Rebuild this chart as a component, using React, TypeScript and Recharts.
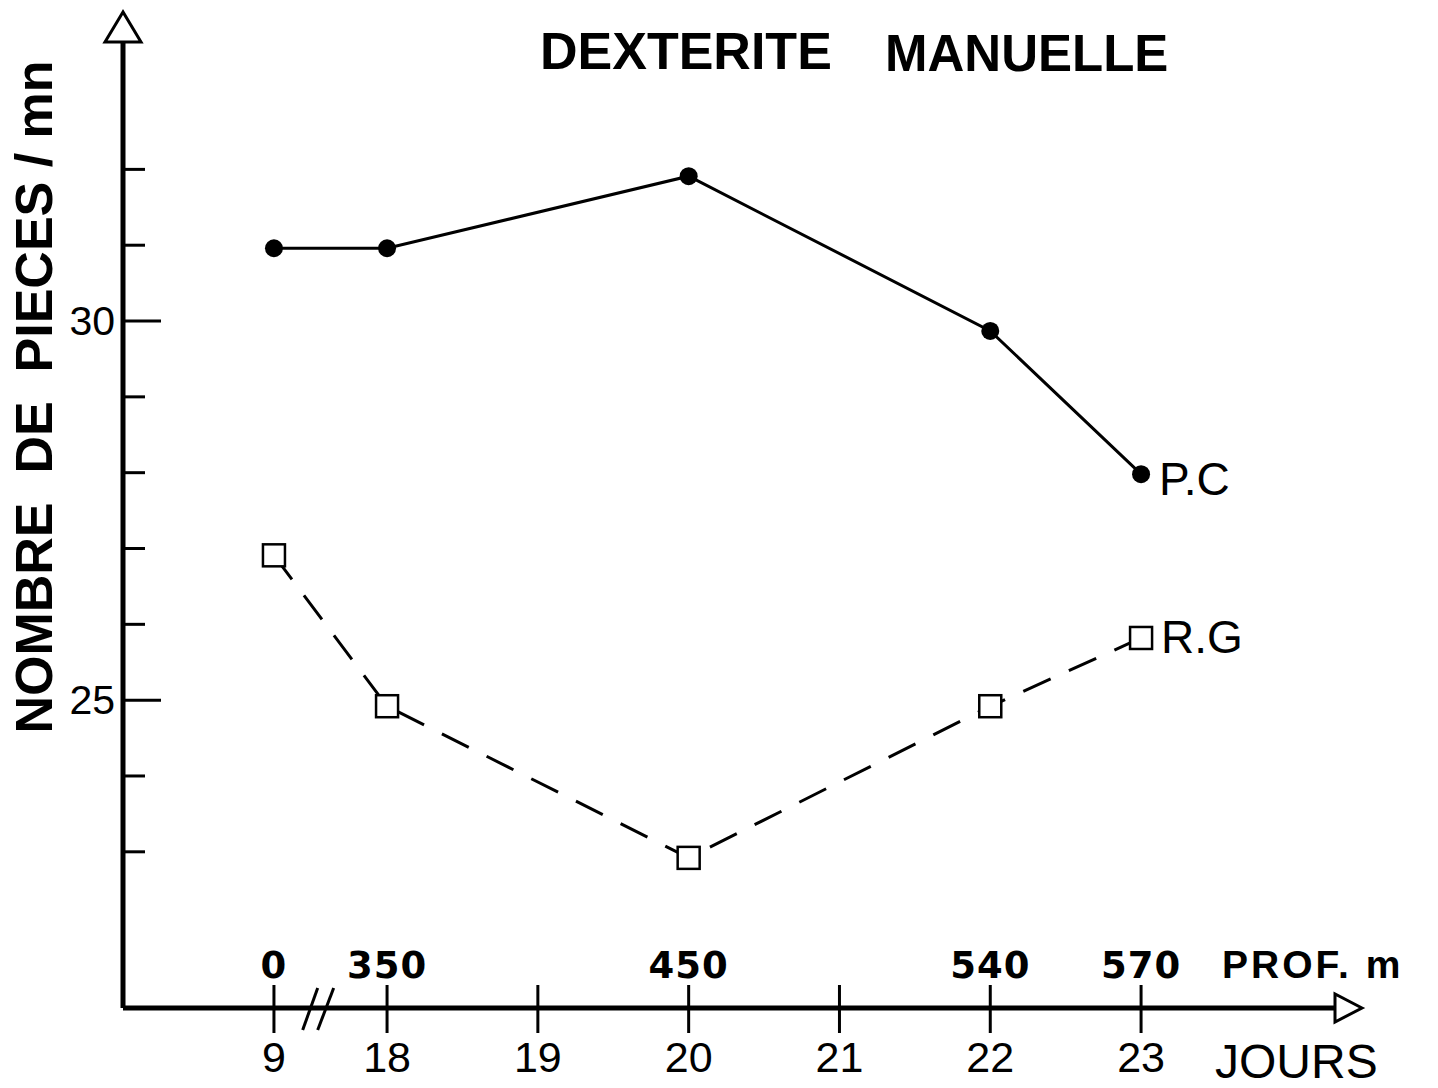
import React from 'react'
import { LineChart, Line, XAxis, YAxis, ReferenceDot } from 'recharts'

// measurement days, with the depth (m) reached on each of them
const days = [9, 18, 20, 22, 23]
const depths = [0, 350, 450, 540, 570]

// pieces per minute
const pcValues = [30.96, 30.96, 31.91, 29.87, 27.98]
const rgValues = [26.91, 24.92, 22.92, 24.92, 25.82]

const dayTicks = [9, 18, 19, 20, 21, 22, 23]
const yTicks = [23, 24, 25, 26, 27, 28, 29, 30, 31, 32]
const yLabelled = [25, 30]

// the day axis is broken between 9 and 18
const BREAK_POS = 17.25
const BREAK_MARK_POS = 17.54
const axisPos = (day: number) => (day < 18 ? BREAK_POS : day)

const X_DOMAIN: [number, number] = [16.249, 24.286]
const Y_DOMAIN: [number, number] = [20.94, 33.68]

const AXIS_X = 123
const FONT = 'Liberation Sans, Arial, sans-serif'

const data = days.map((d, i) => ({
  pos: axisPos(d),
  day: d,
  depth: depths[i],
  pc: pcValues[i],
  rg: rgValues[i],
}))

const DayTick = (props: any) => {
  const { x, index } = props
  const day = dayTicks[index]
  const row = data.find((r) => r.day === day)
  return (
    <g>
      <line x1={x} x2={x} y1={985} y2={1033} stroke="#000" strokeWidth={3} />
      <text x={x} y={1072} textAnchor="middle" fontFamily={FONT} fontSize={43} fill="#000">
        {day}
      </text>
      {row && (
        <text
          x={x}
          y={978}
          textAnchor="middle"
          fontFamily="DejaVu Sans, sans-serif"
          fontWeight="bold"
          fontSize={37}
          letterSpacing={1}
          fill="#000"
        >
          {row.depth}
        </text>
      )}
    </g>
  )
}

const ValueTick = (props: any) => {
  const { y, payload } = props
  const major = yLabelled.includes(payload.value)
  return (
    <g>
      <line x1={AXIS_X} x2={AXIS_X + (major ? 38 : 22)} y1={y} y2={y} stroke="#000" strokeWidth={3} />
      {major && (
        <text x={115} y={y + 14} textAnchor="end" fontFamily={FONT} fontSize={41} fill="#000">
          {payload.value}
        </text>
      )}
    </g>
  )
}

const PcDot = (props: any) => (
  <circle key={`pc-${props.index}`} cx={props.cx} cy={props.cy} r={9} fill="#000" />
)

const RgDot = (props: any) => (
  <rect
    key={`rg-${props.index}`}
    x={props.cx - 11}
    y={props.cy - 11}
    width={22}
    height={22}
    fill="#fff"
    stroke="#000"
    strokeWidth={2.5}
  />
)

const endLabel = (text: string, dx: number, dy: number) => (props: any) => (
  <text x={props.cx + dx} y={props.cy + dy} fontFamily={FONT} fontSize={46} fill="#000">
    {text}
  </text>
)

const UpArrow = (props: any) => (
  <polygon
    points={`${props.cx},${props.cy - 30} ${props.cx - 18},${props.cy} ${props.cx + 18},${props.cy}`}
    fill="#fff"
    stroke="#000"
    strokeWidth={3}
  />
)

const RightArrow = (props: any) => (
  <polygon
    points={`${props.cx + 27},${props.cy} ${props.cx},${props.cy - 14} ${props.cx},${props.cy + 14}`}
    fill="#fff"
    stroke="#000"
    strokeWidth={3}
  />
)

const BreakMark = (props: any) => (
  <g stroke="#000" strokeWidth={3}>
    <line x1={props.cx - 15} y1={props.cy + 22} x2={props.cx} y2={props.cy - 20} />
    <line x1={props.cx} y1={props.cy + 22} x2={props.cx + 16} y2={props.cy - 20} />
  </g>
)

const last = days.length - 1

export default function App() {
  return (
    <div style={{ position: 'absolute', left: 0, top: 0, width: 1438, height: 1088, background: '#fff' }}>
      <LineChart width={1438} height={1088} data={data} margin={{ top: 42, right: 103, bottom: 0, left: 0 }}>
        <XAxis
          type="number"
          dataKey="pos"
          domain={X_DOMAIN}
          ticks={dayTicks.map(axisPos)}
          interval={0}
          height={80}
          axisLine={{ stroke: '#000', strokeWidth: 5 }}
          tickLine={false}
          tick={<DayTick />}
          allowDataOverflow
        />
        <YAxis
          type="number"
          domain={Y_DOMAIN}
          ticks={yTicks}
          interval={0}
          width={123}
          axisLine={{ stroke: '#000', strokeWidth: 5 }}
          tickLine={false}
          tick={<ValueTick />}
          allowDataOverflow
        />
        <Line
          type="linear"
          dataKey="pc"
          stroke="#000"
          strokeWidth={3}
          dot={PcDot}
          activeDot={false}
          isAnimationActive={false}
        />
        <Line
          type="linear"
          dataKey="rg"
          stroke="#000"
          strokeWidth={3}
          strokeDasharray="30 20"
          dot={RgDot}
          activeDot={false}
          isAnimationActive={false}
        />
        <ReferenceDot x={axisPos(days[last])} y={pcValues[last]} ifOverflow="visible" shape={endLabel('P.C', 18, 21)} />
        <ReferenceDot x={axisPos(days[last])} y={rgValues[last]} ifOverflow="visible" shape={endLabel('R.G', 20, 15)} />
        <ReferenceDot x={X_DOMAIN[0]} y={Y_DOMAIN[1]} ifOverflow="visible" shape={UpArrow} />
        <ReferenceDot x={X_DOMAIN[1]} y={Y_DOMAIN[0]} ifOverflow="visible" shape={RightArrow} />
        <ReferenceDot x={BREAK_MARK_POS} y={Y_DOMAIN[0]} ifOverflow="visible" shape={BreakMark} />
      </LineChart>
      <svg
        width={1438}
        height={1088}
        style={{ position: 'absolute', left: 0, top: 0, pointerEvents: 'none' }}
      >
        <text x={540} y={69} fontFamily={FONT} fontWeight="bold" fontSize={52} fill="#000">
          DEXTERITE
        </text>
        <text x={885} y={71} fontFamily={FONT} fontWeight="bold" fontSize={51} fill="#000">
          MANUELLE
        </text>
        <text
          x={52}
          y={397}
          transform="rotate(-90, 52, 397)"
          textAnchor="middle"
          fontFamily={FONT}
          fontWeight="bold"
          fontSize={52}
          fill="#000"
          style={{ whiteSpace: 'pre' }}
        >
          {'NOMBRE  DE  PIECES / mn'}
        </text>
        <text x={1222} y={978} fontFamily={FONT} fontWeight="bold" fontSize={39} letterSpacing={3} fill="#000">
          PROF. m
        </text>
        <text x={1215} y={1078} fontFamily={FONT} fontSize={48} fill="#000">
          JOURS
        </text>
      </svg>
    </div>
  )
}
